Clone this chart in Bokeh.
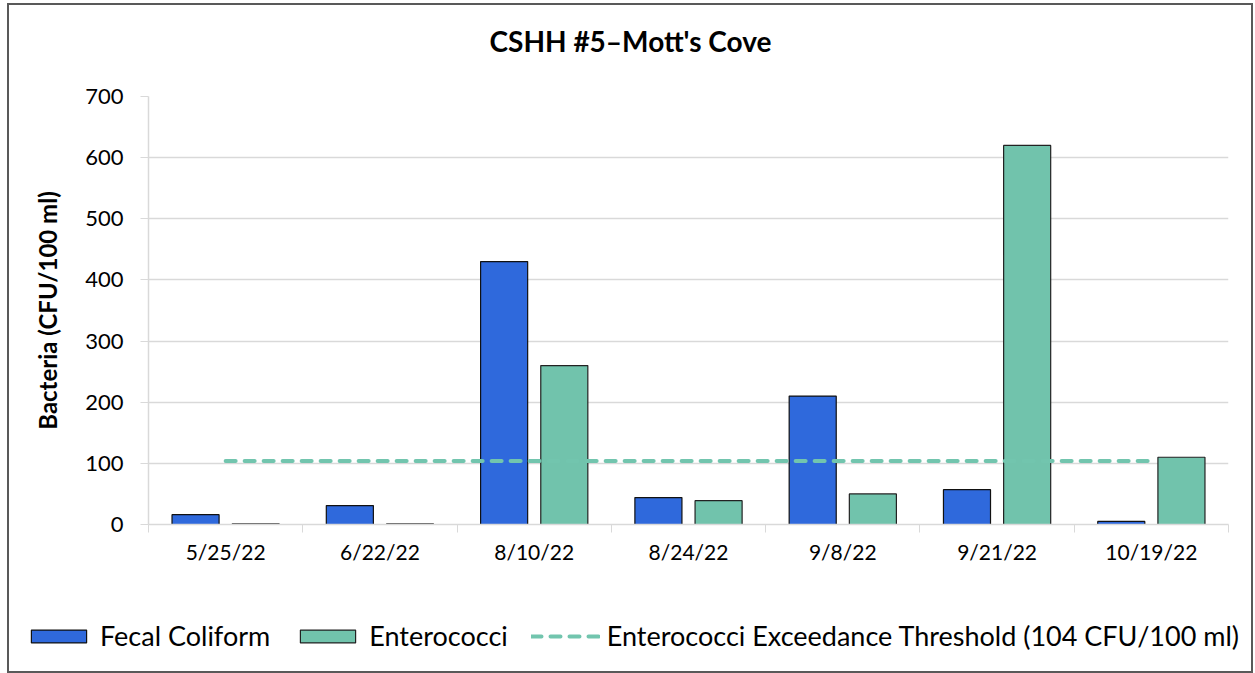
import numpy as np
from bokeh.plotting import figure
from bokeh.layouts import column
from bokeh.models import FixedTicker, Legend, LegendItem, Range1d, ColumnDataSource
from bokeh.embed import file_html
from bokeh.resources import INLINE

# ---- data ----
dates = ["5/25/22", "6/22/22", "8/10/22", "8/24/22", "9/8/22", "9/21/22", "10/19/22"]
fecal_coliform = [16, 31, 430, 44, 210, 57, 5]
enterococci = [1, 1, 260, 39, 50, 620, 110]
threshold = 104
y_ticks = [0, 100, 200, 300, 400, 500, 600, 700]

title = "CSHH #5\u2013Mott's Cove"
y_label = "Bacteria (CFU/100 ml)"
series_names = ["Fecal Coliform", "Enterococci",
                "Enterococci Exceedance Threshold (104 CFU/100 ml)"]
FONT = "Lato"

FC_COLOR = "#2F69DC"
EN_COLOR = "#71C3AC"
TH_COLOR = "#72C5AE"
GRID = "#d9d9d9"

n = len(dates)
centers = np.arange(n) + 0.5
off = 0.195
bw = 0.305


def strip(height):
    f = figure(width=1242, height=height, output_backend="svg", toolbar_location=None,
               x_range=Range1d(0, 1), y_range=Range1d(0, 1),
               min_border=0, x_axis_location=None, y_axis_location=None)
    f.outline_line_color = None
    f.frame_align = False
    f.grid.visible = False
    return f


# title strip
t = strip(72)
t.title.text = title
t.title.align = "center"
t.title.text_font = FONT
t.title.text_font_size = "28px"
t.title.text_font_style = "bold"
t.title.text_color = "#000000"
t.title.standoff = 40

# main chart
p = figure(width=1242, height=503, output_backend="svg", toolbar_location=None,
           x_range=Range1d(0, n), y_range=Range1d(0, 700),
           min_border_left=139, min_border_top=19, min_border_bottom=56,
           min_border_right=23)
p.outline_line_color = None
p.frame_align = False
p.title.visible = False

src_fc = ColumnDataSource(dict(x=centers - off, top=fecal_coliform))
src_en = ColumnDataSource(dict(x=centers + off, top=enterococci))
bar_fc = dict(fill_color=FC_COLOR, line_color="#111111", line_width=1.2)
bar_en = dict(fill_color=EN_COLOR, line_color="#222222", line_width=1.2)
th_style = dict(line_color=TH_COLOR, line_width=4, line_dash="10 9", line_cap="round")
p.vbar(x="x", top="top", width=bw, source=src_fc, **bar_fc)
p.vbar(x="x", top="top", width=bw, source=src_en, **bar_en)
p.line(x=[centers[0], centers[-1]], y=[threshold, threshold], **th_style)

# x axis
xa = p.xaxis[0]
xa.ticker = FixedTicker(ticks=list(centers), minor_ticks=list(range(n + 1)))
xa.major_label_overrides = {float(c): d for c, d in zip(centers, dates)}
xa.major_tick_line_color = None
xa.major_tick_out = 8
xa.major_tick_in = 0
xa.minor_tick_line_color = GRID
xa.minor_tick_out = 8
xa.minor_tick_in = 0
xa.axis_line_color = GRID
xa.axis_line_width = 1.5
xa.major_label_text_font = FONT
xa.major_label_text_font_size = "21px"
xa.major_label_text_color = "#000000"
xa.major_label_standoff = 6

# y axis
ya = p.yaxis[0]
ya.ticker = FixedTicker(ticks=y_ticks)
ya.axis_line_color = GRID
ya.axis_line_width = 1.5
ya.major_tick_line_color = GRID
ya.major_tick_out = 8
ya.major_tick_in = 0
ya.minor_tick_line_color = None
ya.major_label_text_font = FONT
ya.major_label_text_font_size = "22px"
ya.major_label_text_color = "#000000"
ya.major_label_standoff = 17
ya.axis_label = y_label
ya.axis_label_text_font = FONT
ya.axis_label_text_font_size = "24px"
ya.axis_label_text_font_style = "bold"
ya.axis_label_text_color = "#000000"
ya.axis_label_standoff = 20

p.xgrid.grid_line_color = None
p.ygrid.grid_line_color = GRID
p.ygrid.grid_line_width = 1.3
p.ygrid.ticker = FixedTicker(ticks=y_ticks)

# legend strip
q = strip(91)
l_fc = q.vbar(x=[-5], top=[0], width=bw, **bar_fc)
l_en = q.vbar(x=[-5], top=[0], width=bw, **bar_en)
l_th = q.line(x=[-5, -4], y=[0, 0], **th_style)

legend = Legend(items=[
    LegendItem(label=series_names[0], renderers=[l_fc]),
    LegendItem(label=series_names[1], renderers=[l_en]),
    LegendItem(label=series_names[2], renderers=[l_th]),
], orientation="horizontal", location=(15, 19))
legend.glyph_width = 69
legend.glyph_height = 16
legend.label_standoff = 7
legend.spacing = 23
legend.padding = 4
legend.margin = 0
legend.border_line_color = None
legend.background_fill_alpha = 0
legend.label_text_font = FONT
legend.label_text_font_size = "27px"
legend.label_text_color = "#000000"
q.add_layout(legend, "center")

layout = column(t, p, q, spacing=0)
layout.styles = {"border": "2px solid #595959", "margin-left": "7px", "margin-top": "3px"}

open("out.html", "w").write(file_html(layout, INLINE))
